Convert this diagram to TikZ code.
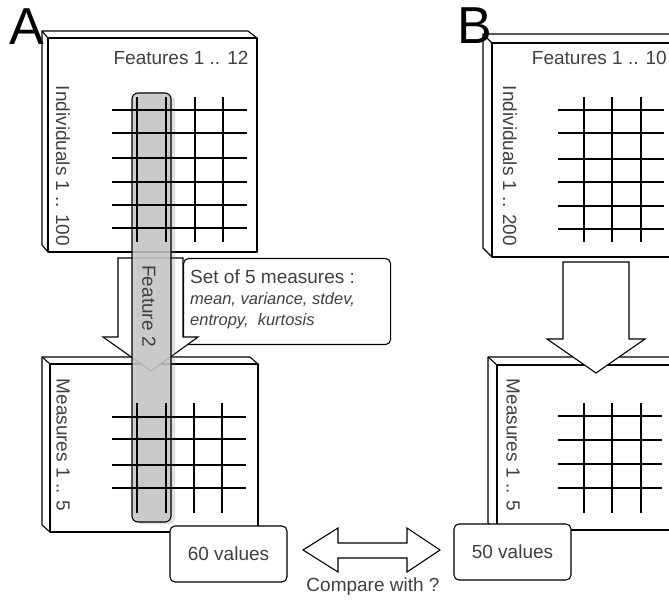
\documentclass[tikz,border=0pt]{standalone}
\usepackage{fontspec}
\setmainfont{Liberation Sans}
\usetikzlibrary{positioning,shadows}

\begin{document}
\begin{tikzpicture}[x=1pt,y=-1pt]

        \tikzset{boxtext/.style = {text=black!75, font=\fontsize{19}{22}\selectfont, inner sep=0pt}, }
        \tikzset{itemtext/.style = {text=black!75, font=\fontsize{16.5}{20}\selectfont\itshape, inner sep=0pt}, }
        \tikzset{bigletter/.style = {font=\fontsize{52}{52}\selectfont, inner sep=0pt}, }
        \tikzset{face/.style = {draw, line width=1.1pt, fill=white, line join=round}, }
        \tikzset{gridline/.style = {line width=1.3pt}, }
        \tikzset{blockarrow/.style = {draw, line width=1.1pt, fill=white, line join=miter}, }
        \tikzset{notebox/.style = {rectangle, draw, line width=1.1pt, fill=white, rounded corners=5pt}, }
        \tikzset{valbox/.style = {notebox, text=black!75, font=\fontsize{19}{22}\selectfont, minimum width=117pt, minimum height=56pt}, }
        \tikzset{featcol/.style = {draw, line width=1.1pt, fill=black!22, fill opacity=0.85, rounded corners=6pt,
                 drop shadow={shadow xshift=4pt, shadow yshift=-2pt, opacity=0.25}}, }

        \useasboundingbox (0,0) rectangle (669,601);
        \clip (0,0) rectangle (669,601);

        % tables A and B
        \draw[face] (42,31) -- (248,31) -- (257,38) -- (257,252) -- (48,252) -- (42,245) -- cycle;
        \draw[face] (48,38) rectangle (257,252);
        \draw[face] (42,31) -- (48,38);
        \draw[face] (483,34) -- (690,34) -- (690,257) -- (492,257) -- (483,248) -- cycle;
        \draw[face] (492,43) rectangle (690,257);
        \draw[face] (483,34) -- (492,43);

        % measure tables
        \draw[face] (42,357) -- (250,357) -- (258,364) -- (258,532) -- (50,532) -- (42,525) -- cycle;
        \draw[face] (50,364) rectangle (258,532);
        \draw[face] (42,357) -- (50,364);
        \draw[face] (488,357) -- (690,357) -- (690,530) -- (497,530) -- (488,523) -- cycle;
        \draw[face] (497,365) rectangle (690,530);
        \draw[face] (488,357) -- (497,365);

        \node[notebox, anchor=north west, minimum width=207pt, minimum height=86pt] (setbox) at (183,258) {};

        \draw[blockarrow] (118,258) -- (183,258) -- (183,337) -- (198,337) -- (151,371) -- (103,337) -- (118,337) -- cycle;
        \draw[blockarrow] (563,262) -- (629,262) -- (629,339) -- (645,339) -- (596,373) -- (547,339) -- (563,339) -- cycle;

        \draw[featcol] (132,93) rectangle (171,522);

        \foreach \y in {110,133,158,182,205,228} \draw[gridline] (112,\y) -- (247,\y);
        \foreach \x in {137,166,195,223} \draw[gridline] (\x,97) -- (\x,242);
        \foreach \y in {417,439,465,488} \draw[gridline] (112,\y) -- (246,\y);
        \foreach \x in {137,166,194,222} \draw[gridline] (\x,403) -- (\x,513);
        \foreach \y in {110,133,159,182,206,229} \draw[gridline] (558,\y) -- (664,\y);
        \foreach \x in {584,612,641} \draw[gridline] (\x,97) -- (\x,242);
        \foreach \y in {416,440,464,488} \draw[gridline] (558,\y) -- (662,\y);
        \foreach \x in {584,612,641} \draw[gridline] (\x,403) -- (\x,513);

        \node[boxtext] (featA) at (181,58) {Features 1 .. 12};
        \node[boxtext, anchor=east] (featB) at (667,58) {Features 1 .. 10};
        \node[boxtext, rotate=-90] (indA) at (63,166) {Individuals 1 .. 100};
        \node[boxtext, rotate=-90] (indB) at (510,166) {Individuals 1 .. 200};
        \node[boxtext, rotate=-90] (measA) at (63,445) {Measures 1 .. 5};
        \node[boxtext, rotate=-90] (measB) at (513,445) {Measures 1 .. 5};
        \node[boxtext, rotate=-90] (feat2) at (149,306) {Feature 2};

        \node[boxtext, anchor=west] (settitle) at (190,277) {Set of 5 measures :};
        \node[itemtext, anchor=west] (setlist1) at (190,300) {mean, variance, stdev,};
        \node[itemtext, anchor=west] (setlist2) at (190,321) {entropy,\ \ kurtosis};

        \node[valbox] (valA) at (228.5,554) {60 values};
        \node[valbox] (valB) at (512.5,552) {50 values};

        \draw[blockarrow] (303,550) -- (338,528) -- (338,543) -- (407,543) -- (407,528) -- (440,550)
              -- (407,572) -- (407,558) -- (338,558) -- (338,572) -- cycle;
        \node[boxtext] (cmp) at (373,587) {Compare with ?};

        \node[bigletter] (labA) at (27,27) {A};
        \node[bigletter] (labB) at (475,26) {B};

\end{tikzpicture}
\end{document}
